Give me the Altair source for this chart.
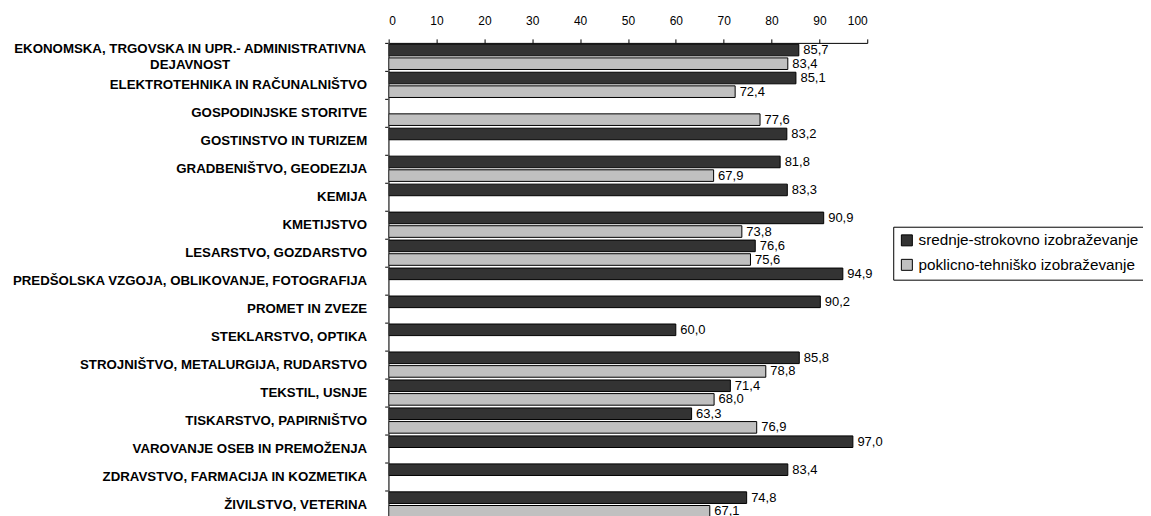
import altair as alt
import pandas as pd

categories = [
    "EKONOMSKA, TRGOVSKA IN UPR.- ADMINISTRATIVNA DEJAVNOST",
    "ELEKTROTEHNIKA IN RAČUNALNIŠTVO",
    "GOSPODINJSKE STORITVE",
    "GOSTINSTVO IN TURIZEM",
    "GRADBENIŠTVO, GEODEZIJA",
    "KEMIJA",
    "KMETIJSTVO",
    "LESARSTVO, GOZDARSTVO",
    "PREDŠOLSKA VZGOJA, OBLIKOVANJE, FOTOGRAFIJA",
    "PROMET IN ZVEZE",
    "STEKLARSTVO, OPTIKA",
    "STROJNIŠTVO, METALURGIJA, RUDARSTVO",
    "TEKSTIL, USNJE",
    "TISKARSTVO, PAPIRNIŠTVO",
    "VAROVANJE OSEB IN PREMOŽENJA",
    "ZDRAVSTVO, FARMACIJA IN KOZMETIKA",
    "ŽIVILSTVO, VETERINA",
]
wrapped_label = ["EKONOMSKA, TRGOVSKA IN UPR.- ADMINISTRATIVNA", "DEJAVNOST"]
series = ["srednje-strokovno izobraževanje", "poklicno-tehniško izobraževanje"]
srednje = [85.7, 85.1, None, 83.2, 81.8, 83.3, 90.9, 76.6, 94.9, 90.2, 60.0, 85.8, 71.4, 63.3, 97.0, 83.4, 74.8]
poklicno = [83.4, 72.4, 77.6, None, 67.9, None, 73.8, 75.6, None, None, None, 78.8, 68.0, 76.9, None, None, 67.1]
x_ticks = list(range(0, 101, 10))
colors = ["#333333", "#c0c0c0"]

rows = []
for c, a, b in zip(categories, srednje, poklicno):
    if a is not None:
        rows.append({"cat": c, "series": series[0], "value": a})
    if b is not None:
        rows.append({"cat": c, "series": series[1], "value": b})
df = pd.DataFrame(rows)

FONT = "Liberation Sans"
H = 476

y_enc = alt.Y(
    "cat:N",
    sort=categories,
    scale=alt.Scale(domain=categories, paddingInner=0, paddingOuter=0),
    axis=alt.Axis(
        title=None,
        labelFont=FONT,
        labelFontSize=13.3,
        labelFontWeight="bold",
        labelColor="black",
        labelLimit=0,
        labelBaseline="middle",
        labelAlign="right",
        labelPadding=18,
        labelExpr=f"datum.value == '{categories[0]}' ? '' : datum.label",
        tickBand="extent",
        tickSize=4,
        tickColor="black",
        domain=True,
        domainColor="#555555",
        domainWidth=1,
    ),
)
yoff_enc = alt.YOffset(
    "series:N",
    sort=series,
    scale=alt.Scale(domain=series, paddingInner=0.15, paddingOuter=0.1),
)
x_enc = alt.X(
    "value:Q",
    scale=alt.Scale(domain=[0, 100], nice=False, zero=True),
    axis=alt.Axis(
        orient="top",
        title=None,
        values=x_ticks,
        labelFont=FONT,
        labelFontSize=12,
        labelColor="black",
        labelPadding=11,
        tickSize=4,
        tickColor="black",
        domainColor="black",
        grid=False,
    ),
)

bars = alt.Chart(df).mark_bar(stroke="black", strokeWidth=1).encode(
    x=x_enc,
    y=y_enc,
    yOffset=yoff_enc,
    color=alt.Color(
        "series:N",
        scale=alt.Scale(domain=series, range=colors),
        legend=alt.Legend(
            title=None,
            orient="none",
            legendX=505,
            legendY=184,
            strokeColor="black",
            fillColor="white",
            padding=6,
            labelFont=FONT,
            labelFontSize=15.3,
            labelColor="black",
            labelLimit=0,
            labelOffset=4,
            rowPadding=8.5,
            symbolType="square",
            symbolSize=121,
            symbolStrokeColor="black",
            symbolStrokeWidth=1,
        ),
    ),
)

text = alt.Chart(df).transform_calculate(
    lab="replace(format(datum.value, '.1f'), '.', ',')"
).mark_text(
    align="left", baseline="middle", dx=4.5, font=FONT, fontSize=13, color="black"
).encode(
    x=alt.X("value:Q"),
    y=alt.Y("cat:N", sort=categories),
    yOffset=alt.YOffset("series:N", sort=series),
    text="lab:N",
)

wrap_df = pd.DataFrame({"cat": [categories[0]], "txt": [wrapped_label]})
wrap_text = alt.Chart(wrap_df).mark_text(
    align="center", baseline="middle", font=FONT, fontSize=13.3, fontWeight="bold",
    color="black", lineHeight=16, dx=-198.7, dy=-8,
).encode(
    x=alt.value(0),
    y=alt.Y("cat:N", sort=categories),
    text="txt",
)

axis_line = alt.Chart(pd.DataFrame({"k": [0]})).mark_rule(color="#555555", strokeWidth=1).encode(
    x=alt.value(0), y=alt.value(0), y2=alt.value(H)
)

chart = (
    alt.layer(bars, text, wrap_text, axis_line)
    .properties(
        width=479,
        height=H,
        autosize=alt.AutoSizeParams(type="none"),
        padding={"left": 381, "top": 34.7, "right": 276, "bottom": -3},
    )
    .configure_view(strokeWidth=0)
)

chart.save("out.html", embed_options={"renderer": "svg", "actions": False})
